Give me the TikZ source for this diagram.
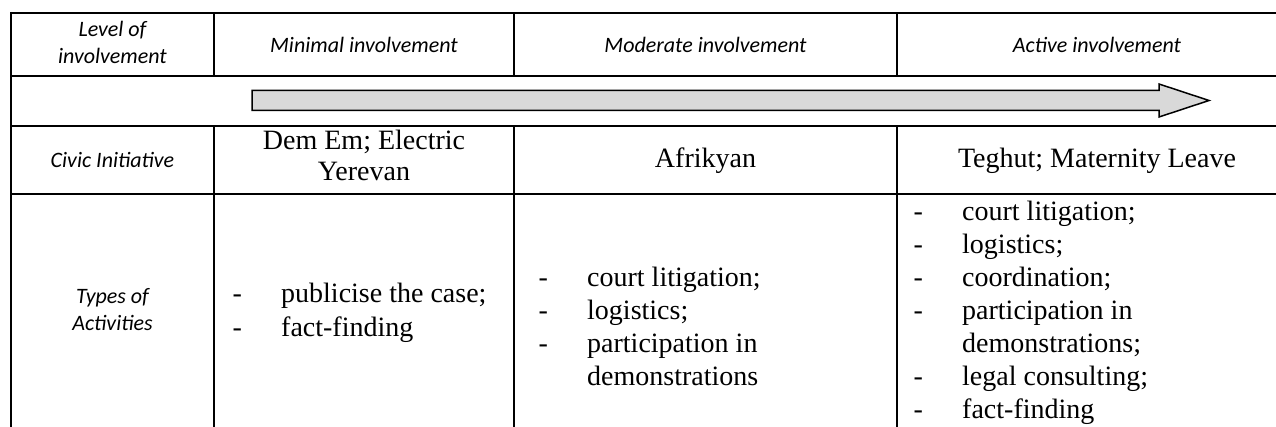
\documentclass[tikz,border=0pt]{standalone}
\usepackage{fontspec}
\usepackage{array}
\setmainfont{Liberation Serif}
\newfontfamily\hdrfont{Carlito}
\definecolor{arrowgray}{HTML}{D9D9D9}
\begin{document}
\begin{tikzpicture}[x=1pt,y=-1pt,
  rule/.style={line width=2.3pt},
  hdrtext/.style={font=\hdrfont\itshape\fontsize{22}{27}\selectfont, align=center, inner sep=0pt},
  bodytext/.style={font=\fontsize{28}{31}\selectfont, inner sep=0pt, anchor=base},
  listtext/.style={font=\fontsize{28}{33}\selectfont, inner sep=0pt, anchor=base west},
  bigarrow/.style={draw=black, line width=1.5pt, fill=arrowgray, line join=miter}]
\useasboundingbox (0,0) rectangle (1276,427);
\clip (0,0) rectangle (1276,427);
% grid
\draw[rule] (11,13) -- (1290,13);
\draw[rule] (11,76) -- (1290,76);
\draw[rule] (11,126) -- (1290,126);
\draw[rule] (11,194) -- (1290,194);
\draw[rule] (11,11.85) -- (11,440);
\foreach \cx in {214,514,897} {
  \draw[rule] (\cx,13) -- (\cx,76);
  \draw[rule] (\cx,126) -- (\cx,440);
}
% arrow
\draw[bigarrow] (252,90.5) -- (1159,90.5) -- (1159,84) -- (1209,100.5) -- (1159,117) -- (1159,110.5) -- (252,110.5) -- cycle;
% header row
\node[hdrtext] (h0) at (112.5,42) {Level of\\involvement};
\node[hdrtext] (h1) at (364,44.5) {Minimal involvement};
\node[hdrtext] (h2) at (705.5,44.5) {Moderate involvement};
\node[hdrtext] (h3) at (1097,44.5) {Active involvement};
% civic row
\node[hdrtext] (c0) at (112.5,160) {Civic Initiative};
\node[bodytext] (c1) at (364,150) {\begin{tabular}[t]{@{}c@{}}Dem Em; Electric\\Yerevan\end{tabular}};
\node[bodytext] (c2) at (705.5,168) {Afrikyan};
\node[bodytext] (c3) at (1097,168) {Teghut; Maternity Leave};
% types row
\node[hdrtext, anchor=base] (t0) at (112.5,304) {\begin{tabular}[t]{@{}c@{}}Types of\\Activities\end{tabular}};
\node[listtext] (t1) at (232.3,303) {\begin{tabular}[t]{@{}p{48.7pt}@{}l@{}}-&publicise the case;\\-&fact-finding\end{tabular}};
\node[listtext] (t2) at (538.3,287) {\begin{tabular}[t]{@{}p{48.7pt}@{}l@{}}-&court litigation;\\-&logistics;\\-&participation in\\&demonstrations\end{tabular}};
\node[listtext] (t3) at (913.3,221) {\begin{tabular}[t]{@{}p{48.7pt}@{}l@{}}-&court litigation;\\-&logistics;\\-&coordination;\\-&participation in\\&demonstrations;\\-&legal consulting;\\-&fact-finding\end{tabular}};
\end{tikzpicture}
\end{document}
